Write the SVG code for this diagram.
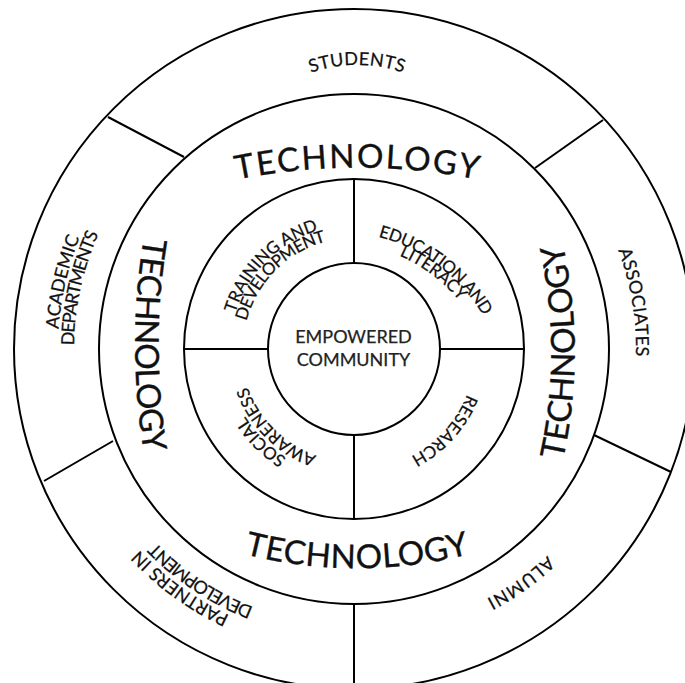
<svg xmlns="http://www.w3.org/2000/svg" width="685" height="683" viewBox="0 0 685 683">
<style>
.ln{fill:none;stroke:#000;stroke-width:2}
text{font-family:Lato,"Open Sans","Liberation Sans",sans-serif;fill:#111;stroke:#111;stroke-width:0.25}
.tech{font-size:33px}
.tech text{stroke-width:0.35}
.mid{font-size:17px}
.out{font-size:18px}
.ctr{font-size:18px;fill:#222;stroke:#222}
</style>
<defs>
<path id="p-tt" d="M 230 181 A 612 612 0 0 1 484 181"/>
<path id="p-tb" d="M 240 553 A 455 455 0 0 0 474 553"/>
<path id="p-tl" d="M 145.5 228 A 658 658 0 0 0 145.5 462"/>
<path id="p-tr" d="M 561 468 A 496 496 0 0 0 561 236"/>
<path id="p-train" d="M 230 349 A 124 124 0 0 1 354 225"/>
<path id="p-devel" d="M 243 349 A 111 111 0 0 1 354 238"/>
<path id="p-edu" d="M 309.8 232.7 A 174 174 0 0 1 506.3 380.8"/>
<path id="p-lit" d="M 311.3 243.6 A 163 163 0 0 1 495.4 382.3"/>
<path id="p-res" d="M 475.8 342.6 A 122 122 0 0 1 360.4 470.8"/>
<path id="p-soc" d="M 354 477 A 128 128 0 0 1 226 349"/>
<path id="p-awa" d="M 354 462 A 113 113 0 0 1 241 349"/>
<path id="p-stu" d="M 279.5 88.4 A 140 140 0 0 1 434.5 88.4"/>
<path id="p-acad" d="M 103 505.9 A 296 296 0 0 1 197.1 98"/>
<path id="p-dept" d="M 117.8 499.4 A 280 280 0 0 1 203.6 112.8"/>
<path id="p-assoc" d="M 517.8 119.4 A 282 282 0 0 1 583.6 512.8"/>
<path id="p-alum" d="M 633.1 395.7 A 283 283 0 0 1 307.3 628.1"/>
<path id="p-part" d="M 400 639.4 A 294 294 0 0 1 63.6 395"/>
<path id="p-dev2" d="M 409.2 620.4 A 277 277 0 0 1 82.6 404.2"/>
</defs>
<rect width="685" height="683" fill="#fff"/>
<g id="rings" class="ln">
<circle cx="354" cy="349" r="340"/>
<circle cx="354" cy="349" r="255"/>
<circle cx="354" cy="349" r="170"/>
</g>
<g id="connectors" class="ln">
<line x1="108" y1="117" x2="184" y2="157"/>
<line x1="603" y1="120" x2="535" y2="168"/>
<line x1="594" y1="435" x2="671" y2="472"/>
<line x1="44" y1="481" x2="113" y2="441"/>
<line x1="354" y1="604" x2="354" y2="690"/>
<line x1="354" y1="179" x2="354" y2="263"/>
<line x1="354" y1="435" x2="354" y2="519"/>
<line x1="184" y1="349" x2="268" y2="349"/>
<line x1="440" y1="349" x2="524" y2="349"/>
</g>
<g id="technology" class="tech">
<text><textPath href="#p-tt" startOffset="50%" text-anchor="middle" textLength="242" lengthAdjust="spacing">TECHNOLOGY</textPath></text>
<text><textPath href="#p-tb" startOffset="50%" text-anchor="middle" textLength="228" lengthAdjust="spacing">TECHNOLOGY</textPath></text>
<text><textPath href="#p-tl" startOffset="50%" text-anchor="middle" textLength="216" lengthAdjust="spacing">TECHNOLOGY</textPath></text>
<text><textPath href="#p-tr" startOffset="50%" text-anchor="middle" textLength="218" lengthAdjust="spacing">TECHNOLOGY</textPath></text>
</g>
<g id="empowered-community">
<circle class="ln" cx="354" cy="349" r="86"/>
<text class="ctr" x="353.5" y="343" text-anchor="middle">EMPOWERED</text>
<text class="ctr" x="353.5" y="366" text-anchor="middle">COMMUNITY</text>
</g>
<g id="training-development" class="mid">
<text><textPath href="#p-train" startOffset="50%" text-anchor="middle" textLength="122" lengthAdjust="spacing">TRAINING AND</textPath></text>
<text><textPath href="#p-devel" startOffset="50%" text-anchor="middle" textLength="118" lengthAdjust="spacing">DEVELOPMENT</textPath></text>
</g>
<g id="education-literacy" class="mid">
<text><textPath href="#p-edu" startOffset="50%" text-anchor="middle" textLength="135" lengthAdjust="spacing">EDUCATION AND</textPath></text>
<text><textPath href="#p-lit" startOffset="50%" text-anchor="middle" textLength="76" lengthAdjust="spacing">LITERACY</textPath></text>
</g>
<g id="research" class="mid">
<text><textPath href="#p-res" startOffset="50%" text-anchor="middle" textLength="86" lengthAdjust="spacing">RESEARCH</textPath></text>
</g>
<g id="social-awareness" class="mid">
<text><textPath href="#p-soc" startOffset="50%" text-anchor="middle">SOCIAL</textPath></text>
<text><textPath href="#p-awa" startOffset="50%" text-anchor="middle">AWARENESS</textPath></text>
</g>
<g id="students" class="out">
<text><textPath href="#p-stu" startOffset="50%" text-anchor="middle" textLength="94" lengthAdjust="spacing">STUDENTS</textPath></text>
</g>
<g id="academic-departments" class="out">
<text><textPath href="#p-acad" startOffset="50%" text-anchor="middle" textLength="94" lengthAdjust="spacing">ACADEMIC</textPath></text>
<text><textPath href="#p-dept" startOffset="50%" text-anchor="middle" textLength="115" lengthAdjust="spacing">DEPARTMENTS</textPath></text>
</g>
<g id="associates" class="out">
<text><textPath href="#p-assoc" startOffset="50%" text-anchor="middle" textLength="108" lengthAdjust="spacing">ASSOCIATES</textPath></text>
</g>
<g id="alumni" class="out">
<text><textPath href="#p-alum" startOffset="50%" text-anchor="middle" textLength="75" lengthAdjust="spacing">ALUMNI</textPath></text>
</g>
<g id="partners-development" class="out">
<text><textPath href="#p-part" startOffset="50%" text-anchor="middle">PARTNERS IN</textPath></text>
<text><textPath href="#p-dev2" startOffset="50%" text-anchor="middle" textLength="118" lengthAdjust="spacing">DEVELOPMENT</textPath></text>
</g>
</svg>
